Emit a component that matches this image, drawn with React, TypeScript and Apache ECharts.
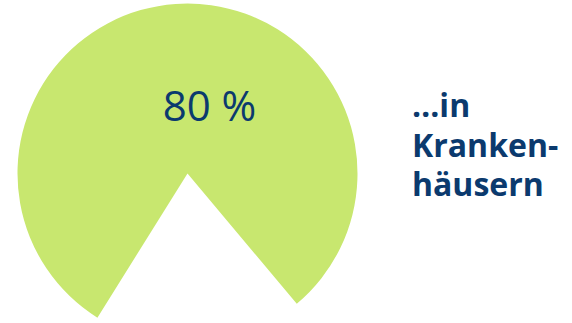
import React, { useEffect, useRef } from "react";
import * as echarts from "echarts";

const categories = ["in Krankenhäusern", "Rest"];
const values = [80, 20];
const labelLines = ["…in", "Kranken-", "häusern"];

const GREEN = "#c8e76f";
const NAVY = "#0b3a6e";

export default function App() {
  const ref = useRef<HTMLDivElement>(null);
  useEffect(() => {
    document.body.style.margin = "0";
    const chart = echarts.init(ref.current!, null, { renderer: "svg" });
    chart.setOption({
      animation: false,
      series: [
        {
          type: "pie",
          z: 1,
          center: [187.5, 173.5],
          radius: [0, 170],
          startAngle: 238,
          clockwise: true,
          silent: true,
          label: { show: false },
          labelLine: { show: false },
          data: categories.map((name, i) => ({
            name,
            value: values[i],
            itemStyle: { color: i === 0 ? GREEN : "rgba(0,0,0,0)" },
          })),
        },
      ],
      graphic: [
        {
          type: "text",
          z: 100,
          x: 209.5,
          y: 104,
          style: {
            text: values[0] + " %",
            fill: NAVY,
            font: "42px 'Open Sans', sans-serif",
            align: "center",
            verticalAlign: "middle",
          },
        },
        {
          type: "text",
          z: 100,
          x: 412,
          y: 85,
          style: {
            text: labelLines.join("\n"),
            fill: NAVY,
            font: "bold 32px 'Open Sans', sans-serif",
            lineHeight: 39.5,
            align: "left",
            verticalAlign: "top",
          },
        },
      ],
    });
    return () => chart.dispose();
  }, []);
  return (
    <div
      ref={ref}
      style={{ position: "fixed", left: 0, top: 0, width: 572, height: 323, background: "#fff" }}
    />
  );
}
